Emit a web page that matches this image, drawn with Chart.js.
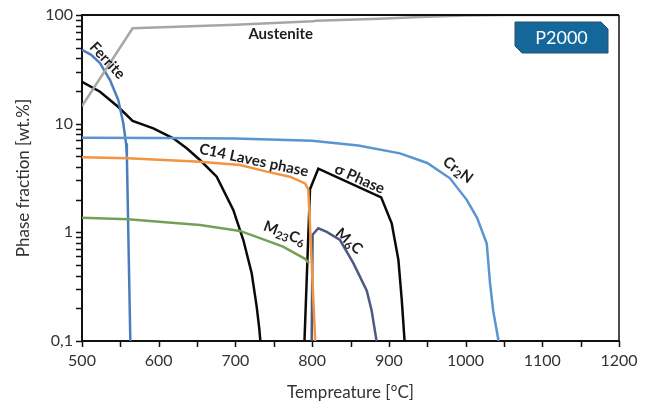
<!DOCTYPE html>
<html>
<head>
    <title>P2000 phase fractions</title>
    <script src="https://cdn.jsdelivr.net/npm/chart.js"></script>
    <style>
        body { margin: 0; background: #fff; }
        #wrap { width: 649px; height: 409px; }
    </style>
</head>
<body>
<div id="wrap"><canvas id="phaseChart" width="649" height="409"></canvas></div>

<script>
    // x axis and y axis tick labels
    const xTickValues = [500, 600, 700, 800, 900, 1000, 1100, 1200];
    const yTickValues = [0.1, 1, 10, 100];
    const yTickLabels = ['0,1', '1', '10', '100'];

    // phase fractions (temperature in °C, fraction in wt.%)
    const austeniteT = [500, 566, 700, 801, 805, 888, 940, 1000, 1050, 1200];
    const austeniteW = [14.5, 75.5, 81.5, 87.5, 88.5, 92.5, 96, 99, 100, 100];

    const ferriteT = [500, 512, 523.5, 536.5, 547.3, 553.8, 557.4, 558.5, 563];
    const ferriteW = [47.7, 43, 36, 25.2, 16.5, 10.1, 6.6, 5.0, 0.1];

    const blackT = [500, 523.5, 547, 566, 593, 619, 636.5, 653.8, 675.6, 697.2, 710.3, 721.2, 727.7, 731.1, 732.5];
    const blackW = [24.3, 19.7, 14.3, 10.6, 9.06, 7.33, 5.93, 4.63, 3.25, 1.61, 0.85, 0.42, 0.207, 0.13, 0.1];

    const cr2nT = [500, 600, 700, 800, 860, 914.5, 950, 979.7, 1001.5, 1015, 1027.6, 1031.9, 1036, 1043];
    const cr2nW = [7.43, 7.4, 7.3, 6.97, 6.3, 5.33, 4.35, 3.14, 1.99, 1.36, 0.79, 0.34, 0.19, 0.1];

    const lavesT = [500, 560, 653.8, 706, 740.8, 771, 790.7, 795, 804];
    const lavesW = [4.9, 4.8, 4.47, 4.17, 3.62, 3.25, 2.82, 2.49, 0.1];

    const m23c6T = [500, 560, 653.8, 706, 740.8, 762, 790.7, 796];
    const m23c6W = [1.36, 1.32, 1.17, 1.03, 0.84, 0.74, 0.57, 0.52];

    const sigmaT = [790, 797.2, 808, 890, 903.7, 912.4, 916.8, 920.5];
    const sigmaW = [0.1, 2.49, 3.85, 2.1, 1.21, 0.56, 0.24, 0.1];

    const m6cT = [799.4, 800.6, 808, 819, 836.3, 853.7, 871.2, 877.6, 880.6, 884];
    const m6cW = [0.1, 0.95, 1.09, 1.01, 0.85, 0.52, 0.29, 0.19, 0.14, 0.1];

    function pts(xs, ys) {
        return xs.map((x, i) => ({ x: x, y: ys[i] }));
    }

    function series(label, xs, ys, color) {
        return {
            label: label,
            data: pts(xs, ys),
            borderColor: color,
            borderWidth: 2.5,
            pointRadius: 0,
            tension: 0,
            fill: false
        };
    }

    // curve labels, drawn at data positions
    const curveLabels = [
        { parts: [['Austenite', 0]], x: 759, y: 66, angle: 0 },
        { parts: [['Ferrite', 0]], x: 533, y: 38, angle: 47 },
        { parts: [['C14 Laves phase', 0]], x: 724, y: 4.6, angle: 12 },
        { parts: [['σ Phase', 0]], x: 862, y: 3.1, angle: 24 },
        { parts: [['Cr', 0], ['2', 1], ['N', 0]], x: 990, y: 3.75, angle: 37 },
        { parts: [['M', 0], ['23', 1], ['C', 0], ['6', 1]], x: 764, y: 0.98, angle: 21 },
        { parts: [['M', 0], ['6', 1], ['C', 0]], x: 848, y: 0.83, angle: 42 }
    ];

    const decorPlugin = {
        id: 'decor',
        afterDraw(chart) {
            const ctx = chart.ctx;
            const a = chart.chartArea;
            const xs = chart.scales.x;
            const ys = chart.scales.y;

            // tick marks
            ctx.save();
            ctx.strokeStyle = '#111';
            ctx.lineWidth = 1.5;
            ctx.beginPath();
            ys.ticks.forEach(t => {
                const py = Math.round(ys.getPixelForValue(t.value)) + 0.5;
                ctx.moveTo(a.left - 6, py);
                ctx.lineTo(a.left, py);
            });
            xs.ticks.forEach(t => {
                const px = Math.round(xs.getPixelForValue(t.value)) + 0.5;
                ctx.moveTo(px, a.bottom);
                ctx.lineTo(px, a.bottom + 6);
            });
            ctx.stroke();

            // frame top and right
            ctx.lineWidth = 2;
            ctx.beginPath();
            ctx.moveTo(a.left, a.top);
            ctx.lineTo(a.right, a.top);
            ctx.stroke();
            ctx.lineWidth = 1.5;
            ctx.beginPath();
            ctx.moveTo(a.right, a.top);
            ctx.lineTo(a.right, a.bottom);
            ctx.stroke();
            ctx.restore();

            // curve labels
            ctx.save();
            ctx.fillStyle = '#1e1e1e';
            ctx.textBaseline = 'middle';
            curveLabels.forEach(l => {
                const big = 'bold 15px Lato';
                const small = 'bold 11px Lato';
                let w = 0;
                l.parts.forEach(p => {
                    ctx.font = p[1] ? small : big;
                    w += ctx.measureText(p[0]).width;
                });
                ctx.save();
                ctx.translate(xs.getPixelForValue(l.x), ys.getPixelForValue(l.y));
                ctx.rotate(l.angle * Math.PI / 180);
                let cx = -w / 2;
                l.parts.forEach(p => {
                    ctx.font = p[1] ? small : big;
                    ctx.fillText(p[0], cx, p[1] ? 4 : 0);
                    cx += ctx.measureText(p[0]).width;
                });
                ctx.restore();
            });
            ctx.restore();

            // P2000 tag
            ctx.save();
            const bx = 515, by = 22, bw = 93, bh = 31, c = 7;
            ctx.beginPath();
            ctx.moveTo(bx, by);
            ctx.lineTo(bx + bw - c, by);
            ctx.lineTo(bx + bw, by + c);
            ctx.lineTo(bx + bw, by + bh);
            ctx.lineTo(bx + c, by + bh);
            ctx.lineTo(bx, by + bh - c);
            ctx.closePath();
            ctx.fillStyle = '#13679a';
            ctx.fill();
            ctx.strokeStyle = '#2d4f68';
            ctx.lineWidth = 1;
            ctx.stroke();
            ctx.fillStyle = '#ffffff';
            ctx.font = '18px Lato';
            ctx.textAlign = 'center';
            ctx.textBaseline = 'middle';
            ctx.fillText('P2000', bx + bw / 2, by + bh / 2 + 1);
            ctx.restore();
        }
    };

    const ctx = document.getElementById('phaseChart').getContext('2d');
    new Chart(ctx, {
        type: 'line',
        data: {
            datasets: [
                series('Austenite', austeniteT, austeniteW, '#a6a6a6'),
                series('Cr2N', cr2nT, cr2nW, '#5b95cf'),
                series('C14 Laves phase', lavesT, lavesW, '#f39440'),
                series('M23C6', m23c6T, m23c6W, '#74a056'),
                series('Ferrite', ferriteT, ferriteW, '#4a7dbc'),
                series('Black', blackT, blackW, '#0a0a0a'),
                series('M6C', m6cT, m6cW, '#4d5a82'),
                series('σ Phase', sigmaT, sigmaW, '#0a0a0a')
            ]
        },
        options: {
            responsive: false,
            animation: false,
            layout: { padding: { top: 15, right: 30, left: 0, bottom: 0 } },
            plugins: {
                legend: { display: false },
                tooltip: { enabled: false }
            },
            scales: {
                x: {
                    type: 'linear',
                    min: 500,
                    max: 1200,
                    afterFit: s => { s.height = 68; s.paddingLeft = 0; s.paddingRight = 0; },
                    afterBuildTicks: s => {
                        s.ticks = [];
                        for (let v = 500; v <= 1200; v += 50) s.ticks.push({ value: v });
                    },
                    ticks: {
                        autoSkip: false,
                        maxRotation: 0,
                        padding: 10,
                        color: '#333',
                        font: { family: 'Lato', size: 16 },
                        callback: v => xTickValues.includes(v) ? String(v) : ''
                    },
                    grid: { display: false, drawTicks: false },
                    border: { color: '#111', width: 2 },
                    title: {
                        display: true,
                        text: 'Tempreature [°C]',
                        color: '#333',
                        font: { family: 'Lato', size: 17 },
                        padding: { top: 0, bottom: 6 }
                    }
                },
                y: {
                    type: 'logarithmic',
                    min: 0.1,
                    max: 100,
                    afterFit: s => { s.width = 82; s.paddingTop = 0; s.paddingBottom = 0; },
                    afterBuildTicks: s => {
                        s.ticks = [];
                        yTickValues.forEach((d, i) => {
                            if (i === yTickValues.length - 1) { s.ticks.push({ value: d }); return; }
                            for (let k = 1; k <= 9; k++) s.ticks.push({ value: d * k });
                        });
                    },
                    ticks: {
                        autoSkip: false,
                        padding: 9,
                        color: '#333',
                        font: { family: 'Lato', size: 16 },
                        callback: v => {
                            const i = yTickValues.findIndex(t => Math.abs(t - v) < 1e-9);
                            return i >= 0 ? yTickLabels[i] : '';
                        }
                    },
                    grid: { display: false, drawTicks: false },
                    border: { color: '#111', width: 2 },
                    title: {
                        display: true,
                        text: 'Phase fraction [wt.%]',
                        color: '#333',
                        font: { family: 'Lato', size: 17 },
                        padding: { top: 13, bottom: 0 }
                    }
                }
            }
        },
        plugins: [decorPlugin]
    });
</script>
</body>
</html>
